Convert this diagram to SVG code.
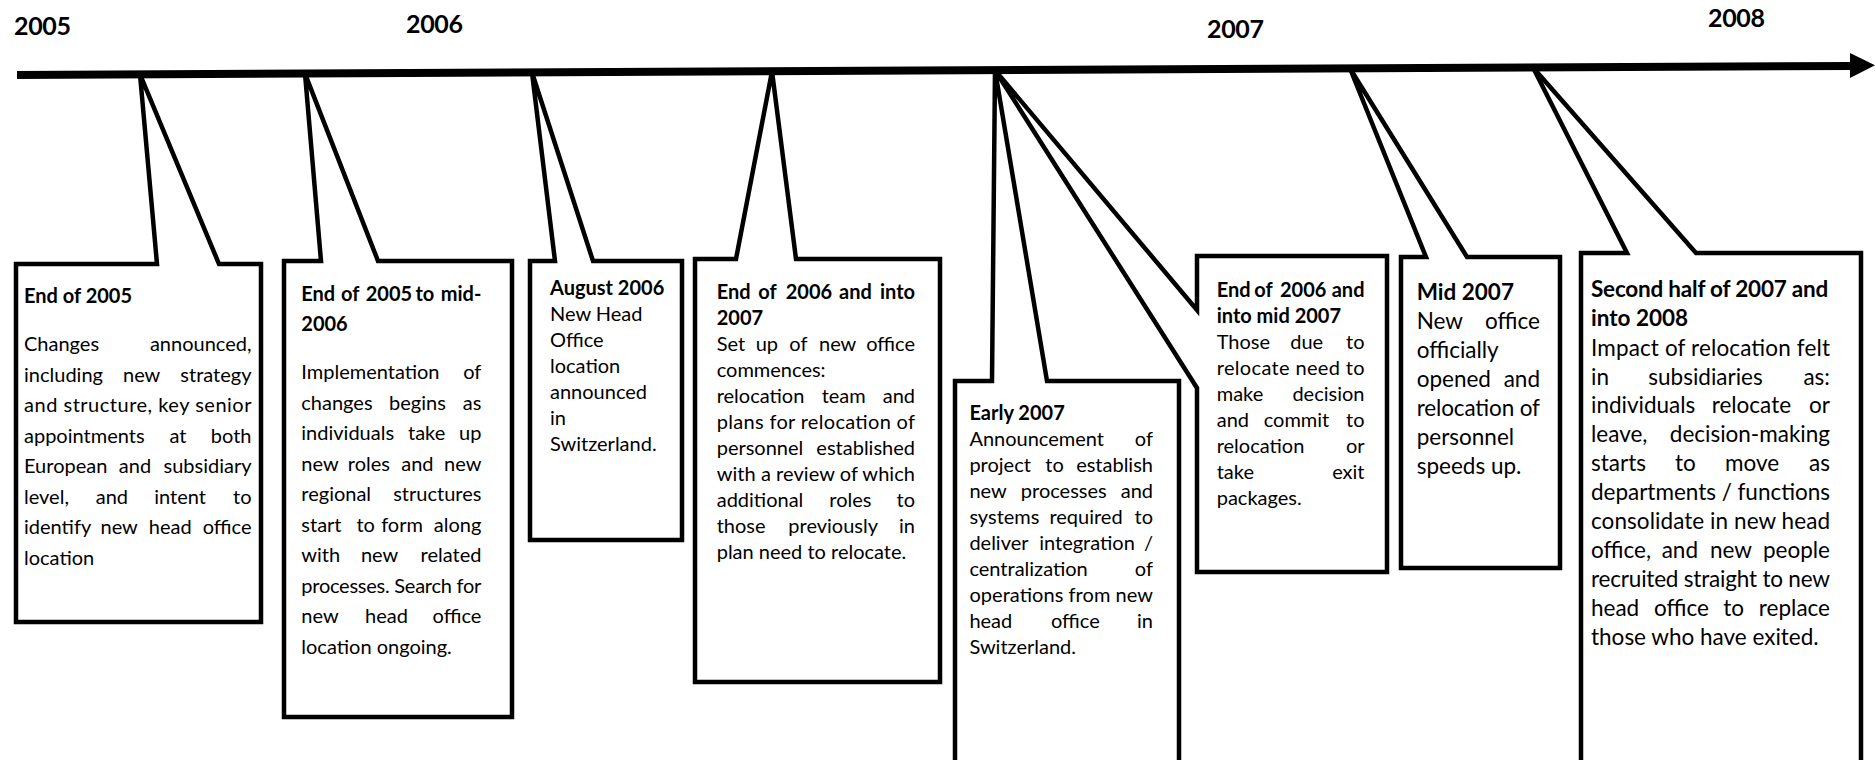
<svg xmlns="http://www.w3.org/2000/svg" width="1875" height="760" viewBox="0 0 1875 760">
<style>
.tl{stroke:#000;stroke-width:8;fill:none}
.box{fill:#fff;stroke:#000;stroke-width:4.5;stroke-linejoin:miter}
text{fill:#000;font-family:Lato,"Liberation Sans",sans-serif}
.yr{font-weight:700;font-size:25px}
.h{font-weight:700;font-size:20px}
.b{font-size:20px}
.h2{font-weight:700;font-size:22.5px}
.b2{font-size:22.5px}
.e{text-anchor:end}
</style>
<rect width="1875" height="760" fill="#fff"/>
<g id="years">
<text class="yr" x="14" y="35" textLength="57">2005</text>
<text class="yr" x="406" y="33" textLength="57">2006</text>
<text class="yr" x="1207" y="38" textLength="57">2007</text>
<text class="yr" x="1708" y="27" textLength="57">2008</text>
</g>
<g id="connectors">
<line class="tl" x1="17" y1="75" x2="1853" y2="66"/>
<polygon points="1850,53 1875,65.3 1850,78" fill="#000"/>
</g>
<g id="box1">
<path class="box" d="M16,264 H157 L140,74.4 L219,264 H261 V622 H16 Z"/>
<text class="h" x="24" y="303">End of 2005</text>
<text class="b" y="351"><tspan x="24">Changes</tspan><tspan x="251.5" class="e">announced,</tspan></text>
<text class="b" y="381.5"><tspan x="24">including</tspan><tspan x="123">new</tspan><tspan x="251.5" class="e">strategy</tspan></text>
<text class="b" x="24" y="412" textLength="227.5" lengthAdjust="spacing">and structure, key senior</text>
<text class="b" y="442.5"><tspan x="24">appointments</tspan><tspan x="169.4">at</tspan><tspan x="251.5" class="e">both</tspan></text>
<text class="b" y="473"><tspan x="24">European</tspan><tspan x="118.8">and</tspan><tspan x="251.5" class="e">subsidiary</tspan></text>
<text class="b" y="503.5"><tspan x="24">level,</tspan><tspan x="95.7">and</tspan><tspan x="154.3">intent</tspan><tspan x="251.5" class="e">to</tspan></text>
<text class="b" y="534"><tspan x="24">identify</tspan><tspan x="100.5">new</tspan><tspan x="148.8">head</tspan><tspan x="251.5" class="e">office</tspan></text>
<text class="b" x="24" y="564.5">location</text>
</g>
<g id="box2">
<path class="box" d="M284,261 H321 L305,73.6 L378,261 H512 V717 H284 Z"/>
<text class="h" y="300.5"><tspan x="301.3">End</tspan><tspan x="341">of</tspan><tspan x="365.7">2005</tspan><tspan x="415.5">to</tspan><tspan x="481.4" class="e">mid-</tspan></text>
<text class="h" x="301.3" y="331">2006</text>
<text class="b" y="379"><tspan x="301.3">Implementation</tspan><tspan x="481.4" class="e">of</tspan></text>
<text class="b" y="409.5"><tspan x="301.3">changes</tspan><tspan x="389.1">begins</tspan><tspan x="481.4" class="e">as</tspan></text>
<text class="b" y="440"><tspan x="301.3">individuals</tspan><tspan x="408">take</tspan><tspan x="481.4" class="e">up</tspan></text>
<text class="b" y="470.5"><tspan x="301.3">new</tspan><tspan x="347.8">roles</tspan><tspan x="401.2">and</tspan><tspan x="481.4" class="e">new</tspan></text>
<text class="b" y="501"><tspan x="301.3">regional</tspan><tspan x="481.4" class="e">structures</tspan></text>
<text class="b" y="531.5"><tspan x="301.3">start</tspan><tspan x="356.4">to</tspan><tspan x="381.2">form</tspan><tspan x="481.4" class="e">along</tspan></text>
<text class="b" y="562"><tspan x="301.3">with</tspan><tspan x="360.9">new</tspan><tspan x="481.4" class="e">related</tspan></text>
<text class="b" x="301.3" y="592.5" textLength="180.1" lengthAdjust="spacing">processes. Search for</text>
<text class="b" y="623"><tspan x="301.3">new</tspan><tspan x="365">head</tspan><tspan x="481.4" class="e">office</tspan></text>
<text class="b" x="301.3" y="653.5">location ongoing.</text>
</g>
<g id="box3">
<path class="box" d="M530,261 H555 L532,72.5 L593,261 H682 V540 H530 Z"/>
<text class="h" x="550" y="295">August 2006</text>
<text class="b" x="550" y="321">New Head</text>
<text class="b" x="550" y="347">Office</text>
<text class="b" x="550" y="373">location</text>
<text class="b" x="550" y="399">announced</text>
<text class="b" x="550" y="425">in</text>
<text class="b" x="550" y="451">Switzerland.</text>
</g>
<g id="box4">
<path class="box" d="M695,259 H736 L772,71.3 L796,259 H940 V682 H695 Z"/>
<text class="h" y="299"><tspan x="716.7">End</tspan><tspan x="758.3">of</tspan><tspan x="785.7">2006</tspan><tspan x="839">and</tspan><tspan x="915" class="e">into</tspan></text>
<text class="h" x="716.7" y="325">2007</text>
<text class="b" y="351"><tspan x="716.7">Set</tspan><tspan x="755.7">up</tspan><tspan x="789.3">of</tspan><tspan x="819">new</tspan><tspan x="915" class="e">office</tspan></text>
<text class="b" x="716.7" y="377">commences:</text>
<text class="b" y="403"><tspan x="716.7">relocation</tspan><tspan x="821.7">team</tspan><tspan x="915" class="e">and</tspan></text>
<text class="b" x="716.7" y="429" textLength="198.3" lengthAdjust="spacing">plans for relocation of</text>
<text class="b" y="455"><tspan x="716.7">personnel</tspan><tspan x="915" class="e">established</tspan></text>
<text class="b" x="716.7" y="481" textLength="198.3" lengthAdjust="spacing">with a review of which</text>
<text class="b" y="507"><tspan x="716.7">additional</tspan><tspan x="829.3">roles</tspan><tspan x="915" class="e">to</tspan></text>
<text class="b" y="533"><tspan x="716.7">those</tspan><tspan x="788.3">previously</tspan><tspan x="915" class="e">in</tspan></text>
<text class="b" x="716.7" y="559">plan need to relocate.</text>
</g>
<g id="box5">
<path class="box" d="M955,381 H992 L995,70.2 L1047,381 H1179 V775 H955 Z"/>
<text class="h" x="969.4" y="420">Early 2007</text>
<text class="b" y="446"><tspan x="969.4">Announcement</tspan><tspan x="1153" class="e">of</tspan></text>
<text class="b" y="472"><tspan x="969.4">project</tspan><tspan x="1045.3">to</tspan><tspan x="1153" class="e">establish</tspan></text>
<text class="b" y="498"><tspan x="969.4">new</tspan><tspan x="1020.8">processes</tspan><tspan x="1153" class="e">and</tspan></text>
<text class="b" y="524"><tspan x="969.4">systems</tspan><tspan x="1049.4">required</tspan><tspan x="1153" class="e">to</tspan></text>
<text class="b" y="550"><tspan x="969.4">deliver</tspan><tspan x="1039.2">integration</tspan><tspan x="1153" class="e">/</tspan></text>
<text class="b" y="576"><tspan x="969.4">centralization</tspan><tspan x="1153" class="e">of</tspan></text>
<text class="b" x="969.4" y="602" textLength="183.6" lengthAdjust="spacing">operations from new</text>
<text class="b" y="628"><tspan x="969.4">head</tspan><tspan x="1051">office</tspan><tspan x="1153" class="e">in</tspan></text>
<text class="b" x="969.4" y="654">Switzerland.</text>
</g>
<g id="box6">
<path class="box" d="M1197,256 H1387 V572 H1197 V388 L995,70.2 L1197,310 Z"/>
<text class="h" y="296.5"><tspan x="1216.7">End</tspan><tspan x="1254.3">of</tspan><tspan x="1280">2006</tspan><tspan x="1364.5" class="e">and</tspan></text>
<text class="h" x="1216.7" y="322.5">into mid 2007</text>
<text class="b" y="348.5"><tspan x="1216.7">Those</tspan><tspan x="1290.2">due</tspan><tspan x="1364.5" class="e">to</tspan></text>
<text class="b" x="1216.7" y="374.5" textLength="147.8" lengthAdjust="spacing">relocate need to</text>
<text class="b" y="400.5"><tspan x="1216.7">make</tspan><tspan x="1364.5" class="e">decision</tspan></text>
<text class="b" y="426.5"><tspan x="1216.7">and</tspan><tspan x="1263.7">commit</tspan><tspan x="1364.5" class="e">to</tspan></text>
<text class="b" y="452.5"><tspan x="1216.7">relocation</tspan><tspan x="1364.5" class="e">or</tspan></text>
<text class="b" y="478.5"><tspan x="1216.7">take</tspan><tspan x="1364.5" class="e">exit</tspan></text>
<text class="b" x="1216.7" y="504.5">packages.</text>
</g>
<g id="box7">
<path class="box" d="M1401,257 H1426 L1350,68.5 L1467,257 H1560 V568 H1401 Z"/>
<text class="h2" x="1416.7" y="299.5">Mid 2007</text>
<text class="b2" y="328.5"><tspan x="1416.7">New</tspan><tspan x="1540" class="e">office</tspan></text>
<text class="b2" x="1416.7" y="357.5">officially</text>
<text class="b2" y="386.5"><tspan x="1416.7">opened</tspan><tspan x="1540" class="e">and</tspan></text>
<text class="b2" x="1416.7" y="415.5" textLength="123.3" lengthAdjust="spacing">relocation of</text>
<text class="b2" x="1416.7" y="444.5">personnel</text>
<text class="b2" x="1416.7" y="473.5">speeds up.</text>
</g>
<g id="box8">
<path class="box" d="M1581,253 H1627 L1533,67.6 L1696,253 H1861 V775 H1581 Z"/>
<text class="h2" x="1591" y="296.5" textLength="237.3" lengthAdjust="spacing">Second half of 2007 and</text>
<text class="h2" x="1591" y="326">into 2008</text>
<text class="b2" x="1591" y="355.5" textLength="239" lengthAdjust="spacing">Impact of relocation felt</text>
<text class="b2" y="384.5"><tspan x="1591">in</tspan><tspan x="1648.3">subsidiaries</tspan><tspan x="1830" class="e">as:</tspan></text>
<text class="b2" y="413.4"><tspan x="1591">individuals</tspan><tspan x="1711.7">relocate</tspan><tspan x="1830" class="e">or</tspan></text>
<text class="b2" y="442.4"><tspan x="1591">leave,</tspan><tspan x="1830" class="e">decision-making</tspan></text>
<text class="b2" y="471.3"><tspan x="1591">starts</tspan><tspan x="1675">to</tspan><tspan x="1725">move</tspan><tspan x="1830" class="e">as</tspan></text>
<text class="b2" x="1591" y="500.3" textLength="239" lengthAdjust="spacing">departments / functions</text>
<text class="b2" x="1591" y="529.2" textLength="239" lengthAdjust="spacing">consolidate in new head</text>
<text class="b2" y="558.2"><tspan x="1591">office,</tspan><tspan x="1661.7">and</tspan><tspan x="1710">new</tspan><tspan x="1830" class="e">people</tspan></text>
<text class="b2" x="1591" y="587.1" textLength="239" lengthAdjust="spacing">recruited straight to new</text>
<text class="b2" y="616.1"><tspan x="1591">head</tspan><tspan x="1654">office</tspan><tspan x="1723.3">to</tspan><tspan x="1830" class="e">replace</tspan></text>
<text class="b2" x="1591" y="645">those who have exited.</text>
</g>
</svg>
